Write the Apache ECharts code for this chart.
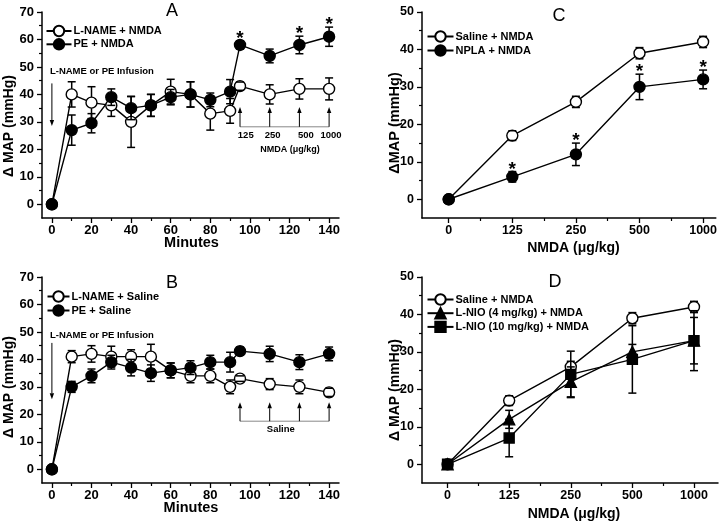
<!DOCTYPE html>
<html><head><meta charset="utf-8">
<script src="https://cdn.jsdelivr.net/npm/echarts@6/dist/echarts.min.js"></script>
<style>html,body{margin:0;padding:0;background:#fff}#c{width:720px;height:526px}</style>
</head><body><div id="c"></div><script>
// ---------- DATA ----------
// Panel A
const minutes = [0,10,20,30,40,50,60,70,80,90,95,110,125,140];
const aLName = [0,40,37,36,30,36,41,40,33,34,43,40,42,42];
const aLNameErr = [0,4.6,5.8,4,9.3,4,4.5,4.6,6,4.5,1.5,3.5,3.7,4];
const aPE = [0,27,29.5,39,35,36,39,40,38,41,58,54,58,61];
const aPEErr = [0,5.5,3.5,3,4.2,4,2.8,4.6,2.5,4.4,1.5,2.5,3.2,3.5];
const aStarX = [95,125,140];
// Panel B
const bLName = [0,41,42,41,41,41,36,34,34,30,33,31,30,28];
const bLNameErr = [0,2.2,3,3.8,2.5,4.5,2.7,2.5,2.5,2.5,1,2,2.5,1.5];
const bPE = [0,30,34,39,37,35,36,37,39,39,43,42,39,42];
const bPEErr = [0,2,2.5,2.5,3,3,2.7,2.5,2.5,3.6,1.5,2.8,2.7,2.5];
// Panel C
const doseIdx = [0,1,2,3,4];
const doseLabels = ['0','125','250','500','1000'];
const cSaline = [0,17,26,39,42];
const cSalineErr = [0,1.3,1.5,1.5,1.5];
const cNPLA = [0,6,12,30,32];
const cNPLAErr = [0,1.4,3,3.4,2.5];
const cStarIdx = [1,2,3,4];
// Panel D
const dSaline = [0,17,26,39,42];
const dSalineErr = [0,1.3,1.5,1.5,1.5];
const dLNIO4 = [0,12,22,30,33];
const dLNIO4Err = [0,2.4,4,2,6.2];
const dLNIO10 = [0,7,24,28,33];
const dLNIO10Err = [0,5,6.2,9,8];
// Tick values
const minuteTicks = [0,20,40,60,80,100,120,140];
const minuteMinor = [10,30,50,70,90,110,130];
const mapTicksAB = [0,10,20,30,40,50,60,70];
const mapMinorAB = [5,15,25,35,45,55,65];
const mapTicksCD = [0,10,20,30,40,50];
const mapMinorCD = [5,15,25,35,45];
const doseMinor = [0.5,1.5,2.5,3.5];
// Annotation texts / anchor values (data units)
const infusionText = 'L-NAME or PE Infusion';
const injectTimes = [95,110,125,140];
const nmdaDoseText = ['125','250','500','1000'];

// ---------- HELPERS ----------
const FONT = '"Liberation Sans", Arial, sans-serif';
const pairs = (xs, ys) => xs.map((x,i)=>[x, ys[i]]);

function xAxes(grid, min, max, ticks, minor, fmt, fs) {
  return [{
    type:'value', gridIndex:grid, min, max, position:'bottom',
    axisLine:{show:true, onZero:false, lineStyle:{color:'#000', width:1.5}},
    axisTick:{show:true, customValues:ticks, length:5, lineStyle:{color:'#000', width:1.3}},
    axisLabel:{show:true, customValues:ticks, formatter:fmt, margin:6, color:'#000',
      fontFamily:FONT, fontWeight:'bold', fontSize:fs},
    splitLine:{show:false}
  },{
    type:'value', gridIndex:grid, min, max, position:'bottom',
    axisLine:{show:false, onZero:false},
    axisTick:{show:true, customValues:minor, length:3, lineStyle:{color:'#000', width:1.2}},
    axisLabel:{show:false}, splitLine:{show:false}
  }];
}
function yAxes(grid, min, max, ticks, minor, fs) {
  return [{
    type:'value', gridIndex:grid, min, max, position:'left',
    axisLine:{show:true, onZero:false, lineStyle:{color:'#000', width:1.5}},
    axisTick:{show:true, customValues:ticks, length:5, lineStyle:{color:'#000', width:1.3}},
    axisLabel:{show:true, customValues:ticks, margin:8, color:'#000',
      fontFamily:FONT, fontWeight:'bold', fontSize:fs},
    splitLine:{show:false}
  },{
    type:'value', gridIndex:grid, min, max, position:'left',
    axisLine:{show:false, onZero:false},
    axisTick:{show:true, customValues:minor, length:3, lineStyle:{color:'#000', width:1.2}},
    axisLabel:{show:false}, splitLine:{show:false}
  }];
}
function lineSeries(name, ai, xs, ys, symbol, filled, size) {
  return {
    type:'line', name, xAxisIndex:ai, yAxisIndex:ai, data:pairs(xs, ys),
    symbol, symbolSize:size, showSymbol:true, animation:false, z:3,
    lineStyle:{color:'#000', width:1.4},
    itemStyle:{color: filled ? '#000' : '#fff', borderColor:'#000', borderWidth:1.4, opacity:1},
    emphasis:{disabled:true}
  };
}
function errSeries(ai, xs, ys, es, r) {
  return {
    type:'custom', xAxisIndex:ai, yAxisIndex:ai, z:5, silent:true, clip:false, animation:false,
    data: xs.map((x,i)=>[x, ys[i], es[i]]), encode:{x:0, y:1},
    renderItem:(params, api) => {
      const x = api.value(0), y = api.value(1), e = api.value(2);
      if (!e) return null;
      const c = api.coord([x,y]), t = api.coord([x,y+e]), b = api.coord([x,y-e]);
      const w = 4, st = {stroke:'#000', lineWidth:1.5};
      const ch = [];
      if (c[1]-t[1] > r) ch.push({type:'line', shape:{x1:c[0],y1:c[1]-r,x2:c[0],y2:t[1]}, style:st});
      if (b[1]-c[1] > r) ch.push({type:'line', shape:{x1:c[0],y1:c[1]+r,x2:c[0],y2:b[1]}, style:st});
      ch.push({type:'line', shape:{x1:c[0]-w,y1:t[1],x2:c[0]+w,y2:t[1]}, style:st});
      ch.push({type:'line', shape:{x1:c[0]-w,y1:b[1],x2:c[0]+w,y2:b[1]}, style:st});
      return {type:'group', children:ch};
    }
  };
}
function starSeries(ai, xs, allX, ys, es) {
  const d = xs.map(x => { const i = allX.indexOf(x); return [x, ys[i] + es[i]]; });
  return {
    type:'custom', xAxisIndex:ai, yAxisIndex:ai, z:6, silent:true, clip:false, animation:false,
    data:d, encode:{x:0, y:1},
    renderItem:(params, api) => {
      const c = api.coord([api.value(0), api.value(1)]);
      return {type:'text', x:c[0], y:c[1]-2,
        style:{text:'*', fill:'#000', font:'bold 19px '+FONT, align:'center', verticalAlign:'middle'}};
    }
  };
}
function annSeries(ai, items) {
  return {
    type:'custom', xAxisIndex:ai, yAxisIndex:ai, z:4, silent:true, clip:false, animation:false,
    data: items.map((_,i)=>[i]), encode:{x:-1, y:-1},
    renderItem:(params, api) => {
      const it = items[params.dataIndex];
      if (it.kind === 'arrow') {
        const a = api.coord([it.x, it.y1]), b = api.coord([it.x, it.y2]);
        const dir = b[1] > a[1] ? 1 : -1, L = 6, hw = 2.2;
        return {type:'group', children:[
          {type:'line', shape:{x1:a[0],y1:a[1],x2:b[0],y2:b[1]-dir*L}, style:{stroke:it.color||'#000', lineWidth:1}},
          {type:'polygon', shape:{points:[[b[0],b[1]],[b[0]-hw,b[1]-dir*L],[b[0]+hw,b[1]-dir*L]]}, style:{fill:it.color||'#000'}}
        ]};
      }
      if (it.kind === 'hline') {
        const a = api.coord([it.x1, it.y]), b = api.coord([it.x2, it.y]);
        return {type:'line', shape:{x1:a[0],y1:a[1],x2:b[0],y2:b[1]}, style:{stroke:it.color||'#000', lineWidth:1}};
      }
      if (it.kind === 'text') {
        const p = api.coord([it.x, it.y]);
        return {type:'text', x:p[0], y:p[1], style:{text:it.text, fill:'#000',
          font:'bold '+it.size+'px '+FONT, align:it.align||'center', verticalAlign:'middle'}};
      }
      return null;
    }
  };
}

// Annotation items
const annA = [
  {kind:'text', x:-1, y:48.5, text:infusionText, align:'left', size:9.5},
  {kind:'arrow', x:0, y1:44, y2:28.5},
  {kind:'hline', x1:injectTimes[0], x2:injectTimes[3], y:28.2, color:'#888'},
  ...injectTimes.map(t => ({kind:'arrow', x:t, y1:28.2, y2:35.4})),
  ...nmdaDoseText.map((s,i) => ({kind:'text', x:[97.9,111.5,128.3,141][i], y:25.2, text:s, size:9.5})),
  {kind:'text', x:120.3, y:20.1, text:'NMDA (μg/kg)', size:9}
];
const annB = [
  {kind:'text', x:-1, y:48.7, text:infusionText, align:'left', size:9.5},
  {kind:'arrow', x:0, y1:46, y2:25.5},
  {kind:'hline', x1:injectTimes[0], x2:injectTimes[3], y:17.5, color:'#888'},
  ...injectTimes.map(t => ({kind:'arrow', x:t, y1:17.5, y2:24.4})),
  {kind:'text', x:115.6, y:14.5, text:'Saline', size:9.5}
];

const doseFmt = v => doseLabels[Math.round(v)];
const legendText = {fontFamily:FONT, fontWeight:'bold', fontSize:11, color:'#000', lineHeight:13, padding:[0,0,0,-3]};

const option = {
  backgroundColor:'#fff',
  animation:false,
  textStyle:{fontFamily:FONT},
  grid:[
    {left:42, top:12, width:297, height:206},
    {left:42, top:277, width:297, height:206},
    {left:422, top:12, width:296, height:206},
    {left:422, top:277, width:296, height:206}
  ],
  xAxis:[
    ...xAxes(0, -5, 145, minuteTicks, minuteMinor, null, 13),
    ...xAxes(1, -5, 145, minuteTicks, minuteMinor, null, 13),
    ...xAxes(2, -0.42, 4.2, doseIdx, doseMinor, doseFmt, 12.5),
    ...xAxes(3, -0.415, 4.39, doseIdx, doseMinor, doseFmt, 12.5)
  ],
  yAxis:[
    ...yAxes(0, -5, 70, mapTicksAB, mapMinorAB, 13),
    ...yAxes(1, -5, 70, mapTicksAB, mapMinorAB, 13),
    ...yAxes(2, -5, 50, mapTicksCD, mapMinorCD, 12.5),
    ...yAxes(3, -5, 50, mapTicksCD, mapMinorCD, 12.5)
  ],
  legend:[
    {orient:'vertical', left:45.5, top:24.5, padding:0, itemWidth:25, itemHeight:13, itemGap:0.3,
     data:['L-NAME + NMDA','PE + NMDA'], textStyle:legendText},
    {orient:'vertical', left:46.5, top:290, padding:0, itemWidth:22, itemHeight:13, itemGap:1,
     data:['L-NAME + Saline','PE + Saline'], textStyle:legendText},
    {orient:'vertical', left:426.5, top:30, padding:0, itemWidth:26, itemHeight:13, itemGap:1,
     data:['Saline + NMDA','NPLA + NMDA'], textStyle:legendText},
    {orient:'vertical', left:426.5, top:293, padding:0, itemWidth:26, itemHeight:13, itemGap:0.7,
     data:['Saline + NMDA ','L-NIO (4 mg/kg) + NMDA','L-NIO (10 mg/kg) + NMDA'], textStyle:legendText}
  ],
  graphic:[
    {type:'text', style:{text:'A', x:172, y:11, fill:'#000', font:'18px '+FONT, align:'center', verticalAlign:'middle'}},
    {type:'text', style:{text:'B', x:172, y:283, fill:'#000', font:'18px '+FONT, align:'center', verticalAlign:'middle'}},
    {type:'text', style:{text:'C', x:559, y:16.5, fill:'#000', font:'18px '+FONT, align:'center', verticalAlign:'middle'}},
    {type:'text', style:{text:'D', x:555, y:282, fill:'#000', font:'18px '+FONT, align:'center', verticalAlign:'middle'}},
    {type:'text', style:{text:'Minutes', x:191.5, y:243, fill:'#000', font:'bold 14.5px '+FONT, align:'center', verticalAlign:'middle'}},
    {type:'text', style:{text:'Minutes', x:191, y:508, fill:'#000', font:'bold 14.5px '+FONT, align:'center', verticalAlign:'middle'}},
    {type:'text', style:{text:'NMDA (μg/kg)', x:573.5, y:248, fill:'#000', font:'bold 14px '+FONT, align:'center', verticalAlign:'middle'}},
    {type:'text', style:{text:'NMDA (μg/kg)', x:574, y:514, fill:'#000', font:'bold 14px '+FONT, align:'center', verticalAlign:'middle'}},
    {type:'text', x:9, y:126, rotation:Math.PI/2, style:{text:'Δ MAP (mmHg)', x:0, y:0, fill:'#000', font:'bold 14px '+FONT, align:'center', verticalAlign:'middle'}},
    {type:'text', x:9, y:387, rotation:Math.PI/2, style:{text:'Δ MAP (mmHg)', x:0, y:0, fill:'#000', font:'bold 14px '+FONT, align:'center', verticalAlign:'middle'}},
    {type:'text', x:395, y:123, rotation:Math.PI/2, style:{text:'ΔMAP (mmHg)', x:0, y:0, fill:'#000', font:'bold 14.5px '+FONT, align:'center', verticalAlign:'middle'}},
    {type:'text', x:395, y:390, rotation:Math.PI/2, style:{text:'Δ MAP (mmHg)', x:0, y:0, fill:'#000', font:'bold 14px '+FONT, align:'center', verticalAlign:'middle'}}
  ],
  series:[
    annSeries(0, annA),
    lineSeries('L-NAME + NMDA', 0, minutes, aLName, 'circle', false, 11),
    lineSeries('PE + NMDA', 0, minutes, aPE, 'circle', true, 11),
    errSeries(0, minutes, aLName, aLNameErr, 5.5),
    errSeries(0, minutes, aPE, aPEErr, 5.5),
    starSeries(0, aStarX, minutes, aPE, aPEErr),

    annSeries(2, annB),
    lineSeries('L-NAME + Saline', 2, minutes, bLName, 'circle', false, 11),
    lineSeries('PE + Saline', 2, minutes, bPE, 'circle', true, 11),
    errSeries(2, minutes, bLName, bLNameErr, 5.5),
    errSeries(2, minutes, bPE, bPEErr, 5.5),

    lineSeries('Saline + NMDA', 4, doseIdx, cSaline, 'circle', false, 11),
    lineSeries('NPLA + NMDA', 4, doseIdx, cNPLA, 'circle', true, 11),
    errSeries(4, doseIdx, cSaline, cSalineErr, 5.5),
    errSeries(4, doseIdx, cNPLA, cNPLAErr, 5.5),
    starSeries(4, cStarIdx, doseIdx, cNPLA, cNPLAErr),

    lineSeries('Saline + NMDA ', 6, doseIdx, dSaline, 'circle', false, 11),
    lineSeries('L-NIO (4 mg/kg) + NMDA', 6, doseIdx, dLNIO4, 'triangle', true, 11),
    lineSeries('L-NIO (10 mg/kg) + NMDA', 6, doseIdx, dLNIO10, 'rect', true, 10),
    errSeries(6, doseIdx, dSaline, dSalineErr, 5.5),
    errSeries(6, doseIdx, dLNIO4, dLNIO4Err, 5),
    errSeries(6, doseIdx, dLNIO10, dLNIO10Err, 5)
  ]
};
const chart = echarts.init(document.getElementById('c'));
chart.setOption(option);
</script></body></html>
